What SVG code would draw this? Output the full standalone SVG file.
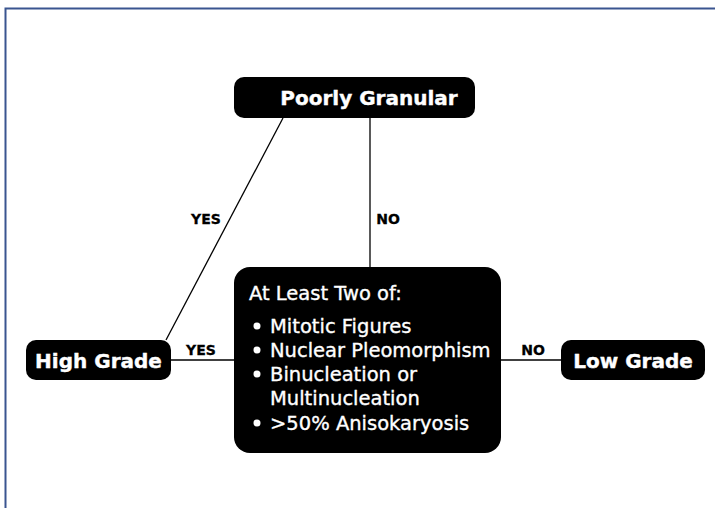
<svg xmlns="http://www.w3.org/2000/svg" width="715" height="508" viewBox="0 0 715 508">
<style>
.box{fill:#000;}
.t{font-family:"DejaVu Sans",Verdana,sans-serif;fill:#fff;font-size:19.5px;stroke:#fff;stroke-width:0.35;}
.tb{font-family:"DejaVu Sans",Verdana,sans-serif;font-weight:bold;fill:#fff;font-size:20px;text-anchor:middle;stroke:#fff;stroke-width:0.4;}
.lbl{font-family:"DejaVu Sans",Verdana,sans-serif;font-weight:bold;fill:#000;font-size:14px;text-anchor:middle;stroke:#000;stroke-width:0.3;}
.c{stroke:#000;stroke-width:1.3;fill:none;}
</style>
<rect width="715" height="508" fill="#fff"/>
<path d="M5.5 508 V8.5 H715" fill="none" stroke="#3a5590" stroke-width="2"/>
<g id="connectors">
<line class="c" x1="283" y1="118" x2="166" y2="340"/>
<line class="c" x1="370" y1="118" x2="370" y2="267"/>
<line class="c" x1="171" y1="360" x2="234" y2="360"/>
<line class="c" x1="501" y1="360" x2="561" y2="360"/>
<text class="lbl" x="206" y="224">YES</text>
<text class="lbl" x="388" y="224">NO</text>
<text class="lbl" x="201" y="355">YES</text>
<text class="lbl" x="533" y="355">NO</text>
</g>
<g id="poorly-granular">
<rect class="box" x="234" y="77" width="241" height="41" rx="10"/>
<text class="tb" x="369" y="105">Poorly Granular</text>
</g>
<g id="high-grade">
<rect class="box" x="26" y="340" width="145" height="40" rx="10"/>
<text class="tb" x="98.5" y="368">High Grade</text>
</g>
<g id="low-grade">
<rect class="box" x="561" y="340" width="144" height="40" rx="10"/>
<text class="tb" x="633" y="368">Low Grade</text>
</g>
<g id="criteria">
<rect class="box" x="234" y="267" width="267" height="186" rx="16"/>
<text class="t" x="249" y="300">At Least Two of:</text>
<circle cx="257" cy="326" r="3.5" fill="#fff"/>
<circle cx="257" cy="350" r="3.5" fill="#fff"/>
<circle cx="257" cy="374" r="3.5" fill="#fff"/>
<circle cx="257" cy="423" r="3.5" fill="#fff"/>
<text class="t" x="270" y="333">Mitotic Figures</text>
<text class="t" x="270" y="357">Nuclear Pleomorphism</text>
<text class="t" x="270" y="381">Binucleation or</text>
<text class="t" x="270" y="405">Multinucleation</text>
<text class="t" x="270" y="430">&gt;50% Anisokaryosis</text>
</g>
</svg>
